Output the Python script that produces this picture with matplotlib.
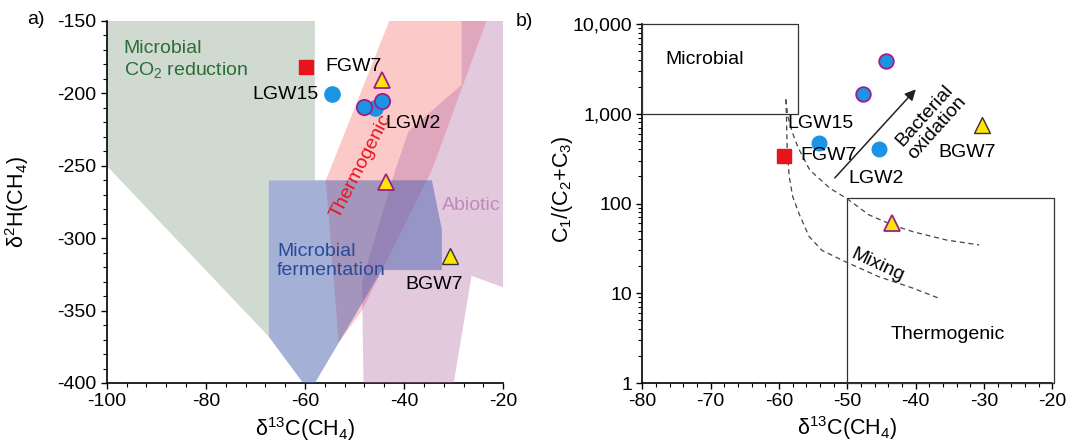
import matplotlib
matplotlib.use("Agg")
import matplotlib.pyplot as plt
from matplotlib.ticker import MultipleLocator, FixedLocator, FuncFormatter, LogLocator, NullFormatter

plt.rcParams['font.family'] = ['Liberation Sans', 'DejaVu Sans']
plt.rcParams['mathtext.fontset'] = 'custom'
plt.rcParams['mathtext.rm'] = 'Liberation Sans'
plt.rcParams['mathtext.it'] = 'Liberation Sans:italic'
plt.rcParams['axes.unicode_minus'] = False

# ---- panel a: genetic fields (d13C, d2H) ----
co2_red = [(-100, -150), (-58, -150), (-58, -260), (-67.3, -260), (-67.3, -368), (-100, -250)]
ferment = [(-67.3, -260), (-34.4, -260), (-32.4, -294), (-32.4, -322), (-44.5, -322),
           (-58, -400), (-60.4, -400), (-67.3, -368)]
thermo = [(-43, -150), (-23.4, -150), (-34.4, -253), (-48.5, -350), (-53.2, -372), (-55.8, -260)]
abiotic = [(-28.4, -150), (-20, -150), (-20, -334), (-26.4, -326), (-30, -400), (-48.2, -400),
           (-48.5, -330), (-41.8, -253), (-39.1, -226), (-28.4, -194)]

# samples panel a
fgw7_a = (-59.8, -181.5)
lgw15_a = (-54.5, -200.6)
lgw2_a = (-45.8, -210.3)
circ_edge_a_x = [-48.0, -44.5]
circ_edge_a_y = [-209.1, -205.2]
tri_edge_a_x = [-44.5, -43.7]
tri_edge_a_y = [-190.7, -261.5]
bgw7_a = (-30.7, -312.1)

# ---- panel b: Bernard plot ----
microbial_box = (-80, -57.2, 1000, 10000)
thermo_box = (-50, -19.8, 1, 114)
upper_x = [-59.0, -58.7, -58.0, -57.2, -55.5, -52.5, -50.1, -46.8, -43.4, -40.4, -35.5, -30.7]
upper_y = [1450, 930, 606, 420, 236, 147, 114, 74.5, 57.6, 48.5, 39.2, 34.5]
lower_x = [-59.0, -58.9, -58.8, -58.5, -58.0, -57.0, -55.6, -53.7, -50.3, -45.4, -40.4, -36.6]
lower_y = [1450, 900, 400, 200, 120, 75, 43, 30, 22.5, 15.3, 11.4, 8.8]

fgw7_b = (-59.3, 341)
lgw15_b = (-54.1, 469)
lgw2_b = (-45.4, 402)
circ_edge_b_x = [-47.7, -44.4]
circ_edge_b_y = [1648, 3870]
tri_edge_b = (-43.5, 60.2)
bgw7_b = (-30.3, 749)

blue = '#1c94e4'
red = '#e8141c'
yellow = '#ffe600'
purp = '#9b1f8a'

fig = plt.figure(figsize=(10.7, 4.47), dpi=100)
ax = fig.add_axes([106.7 / 1070, 1 - 383 / 447, 396.6 / 1070, 362 / 447])
bx = fig.add_axes([642.3 / 1070, 1 - 383 / 447, 410 / 1070, 359 / 447])

# panel a
ax.add_patch(plt.Polygon(co2_red, closed=True, fc='#7f9a82', alpha=0.36, ec='none', zorder=1))
ax.add_patch(plt.Polygon(thermo, closed=True, fc='#f87878', alpha=0.4, ec='none', zorder=2))
ax.add_patch(plt.Polygon(abiotic, closed=True, fc='#b06aa6', alpha=0.36, ec='none', zorder=3))
ax.add_patch(plt.Polygon(ferment, closed=True, fc='#4d62b0', alpha=0.5, ec='none', zorder=4))

ax.plot(*fgw7_a, 's', ms=9.5, color=red, mec=red, zorder=6)
ax.plot(*lgw15_a, 'o', ms=11, color=blue, mec=blue, zorder=6)
ax.plot(*lgw2_a, 'o', ms=11, color=blue, mec=blue, zorder=6)
ax.plot(circ_edge_a_x, circ_edge_a_y, 'o', ms=11, color=blue, mec=purp, mew=1.3, ls='none', zorder=7)
ax.plot(tri_edge_a_x, tri_edge_a_y, '^', ms=11, color=yellow, mec=purp, mew=1.3, ls='none', zorder=7)
ax.plot(*bgw7_a, '^', ms=11, color=yellow, mec='#333333', mew=1.0, zorder=7)

fs = 14
ax.text(-55.9, -181.5, 'FGW7', fontsize=fs, va='center', ha='left', zorder=8)
ax.text(-57.3, -200.5, 'LGW15', fontsize=fs, va='center', ha='right', zorder=8)
ax.text(-43.7, -220.6, 'LGW2', fontsize=fs, va='center', ha='left', zorder=8)
ax.text(-33.9, -332.2, 'BGW7', fontsize=fs, va='center', ha='center', zorder=8)
ax.text(-96.6, -169.3, 'Microbial', fontsize=fs, color='#2a6e35', va='center', ha='left')
ax.text(-96.6, -183.8, 'CO$_2$ reduction', fontsize=fs, color='#2a6e35', va='center', ha='left')
ax.text(-65.6, -309.2, 'Microbial', fontsize=fs, color='#2a4a9a', va='center', ha='left', zorder=8)
ax.text(-65.6, -322.3, 'fermentation', fontsize=fs, color='#2a4a9a', va='center', ha='left', zorder=8)
ax.text(-32.4, -277.4, 'Abiotic', fontsize=fs, color='#c08ab8', va='center', ha='left', zorder=8)
ax.text(-48.8, -250.5, 'Thermogenic', fontsize=fs, color=red, va='center', ha='center',
        rotation=63, zorder=8)

ax.set_xlim(-100, -20)
ax.set_ylim(-400, -150)
ax.xaxis.set_major_locator(MultipleLocator(20))
ax.xaxis.set_minor_locator(MultipleLocator(4))
ax.yaxis.set_major_locator(MultipleLocator(50))
ax.yaxis.set_minor_locator(MultipleLocator(10))
ax.set_xlabel(r'δ$^{13}$C(CH$_4$)', fontsize=15.5)
ax.set_ylabel(r'δ$^{2}$H(CH$_4$)', fontsize=15.5)
ax.xaxis.set_label_coords(0.5, -0.088)
ax.yaxis.set_label_coords(-0.19, 0.5)

# panel b
x0, x1, y0, y1 = microbial_box
bx.plot([x0, x1, x1, x0, x0], [y0, y0, y1, y1, y0], color='#333333', lw=0.9, clip_on=False, zorder=3)
x0, x1, y0, y1 = thermo_box
bx.plot([x0, x1, x1, x0, x0], [y0, y0, y1, y1, y0], color='#333333', lw=0.9, clip_on=False, zorder=3)
bx.plot(upper_x, upper_y, ls=(0, (4, 3)), color='#444444', lw=0.9, zorder=4)
bx.plot(lower_x, lower_y, ls=(0, (4, 3)), color='#444444', lw=0.9, zorder=4)

bx.plot(*fgw7_b, 's', ms=9.5, color=red, mec=red, zorder=6)
bx.plot(*lgw15_b, 'o', ms=10.5, color=blue, mec=blue, zorder=6)
bx.plot(*lgw2_b, 'o', ms=10.5, color=blue, mec=blue, zorder=6)
bx.plot(circ_edge_b_x, circ_edge_b_y, 'o', ms=10.5, color=blue, mec=purp, mew=1.3, ls='none', zorder=7)
bx.plot(*tri_edge_b, '^', ms=11, color=yellow, mec=purp, mew=1.3, zorder=7)
bx.plot(*bgw7_b, '^', ms=11, color=yellow, mec='#333333', mew=1.0, zorder=7)

bx.annotate('', xy=(-39.7, 1972), xytext=(-52.1, 183),
            arrowprops=dict(arrowstyle='-|>', color='#222222', lw=1.1, mutation_scale=16), zorder=8)

bx.text(-58.8, 783, 'LGW15', fontsize=fs, va='center', ha='left', zorder=8)
bx.text(-56.8, 347, 'FGW7', fontsize=fs, va='center', ha='left', zorder=8)
bx.text(-49.8, 191, 'LGW2', fontsize=fs, va='center', ha='left', zorder=8)
bx.text(-36.7, 368, 'BGW7', fontsize=fs, va='center', ha='left', zorder=8)
bx.text(-76.6, 3980, 'Microbial', fontsize=fs, va='center', ha='left')
bx.text(-43.6, 3.43, 'Thermogenic', fontsize=fs, va='center', ha='left')
bx.text(-45.6, 20.6, 'Mixing', fontsize=fs, va='center', ha='center', rotation=-25)
bx.text(-37.8, 815, 'Bacterial\noxidation', fontsize=fs, va='center', ha='center',
        rotation=48, linespacing=1.0)

bx.set_xlim(-80, -20)
bx.set_yscale('log')
bx.set_ylim(1, 10000)
bx.xaxis.set_major_locator(MultipleLocator(10))
bx.xaxis.set_minor_locator(MultipleLocator(2))
bx.yaxis.set_major_locator(FixedLocator([1, 10, 100, 1000, 10000]))
bx.yaxis.set_major_formatter(FuncFormatter(lambda v, p: f'{v:,.0f}'))
bx.yaxis.set_minor_locator(LogLocator(base=10, subs=range(2, 10)))
bx.yaxis.set_minor_formatter(NullFormatter())
bx.set_xlabel(r'δ$^{13}$C(CH$_4$)', fontsize=15.5)
bx.set_ylabel(r'C$_1$/(C$_2$+C$_3$)', fontsize=15.5)
bx.xaxis.set_label_coords(0.5, -0.088)
bx.yaxis.set_label_coords(-0.165, 0.54)

for a in (ax, bx):
    a.spines['top'].set_visible(False)
    a.spines['right'].set_visible(False)
    a.spines['left'].set_linewidth(1.2)
    a.spines['bottom'].set_linewidth(1.2)
    a.tick_params(which='major', direction='out', length=4, width=1, labelsize=14)
    a.tick_params(which='minor', direction='out', length=3, width=0.8)

fig.text(27 / 1070, 1 - 20 / 447, 'a)', fontsize=14, va='center', ha='left')
fig.text(516 / 1070, 1 - 22 / 447, 'b)', fontsize=14, va='center', ha='left')

fig.savefig('out.png', dpi=100)
